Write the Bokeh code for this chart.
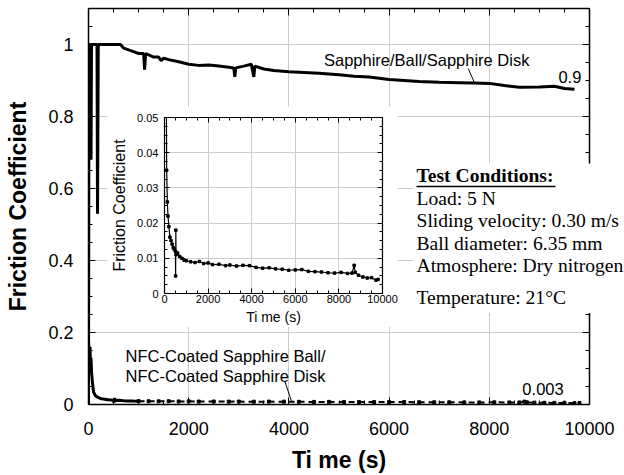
from bokeh.plotting import figure
from bokeh.models import (Range1d, LinearAxis, SingleIntervalTicker, NumeralTickFormatter,
                          Label, Arrow)
from bokeh.embed import file_html
from bokeh.resources import INLINE

# ---------------- data ----------------
sapphire_t = [0, 10, 40, 50, 60, 100, 170, 180, 195, 300, 500, 640, 700, 800, 900, 1000,
              1100, 1120, 1140, 1300, 1400, 1450, 1500, 1600, 1800, 2000, 2200, 2400, 2600,
              2800, 2900, 2920, 2940, 3100, 3250, 3300, 3320, 3500, 3700, 4000, 4300, 4600,
              5000, 5300, 5600, 6000, 6300, 6600, 7000, 7400, 7700, 8000, 8300, 8600, 9000,
              9300, 9500, 9700]
sapphire_f = [0.0, 1.0, 1.0, 0.68, 1.0, 1.0, 1.0, 0.53, 1.0, 1.0, 1.0, 1.0, 0.99, 0.985,
              0.98, 0.975, 0.975, 0.93, 0.975, 0.965, 0.965, 0.955, 0.962, 0.958, 0.952,
              0.945, 0.942, 0.943, 0.94, 0.937, 0.935, 0.91, 0.935, 0.94, 0.945, 0.91, 0.94,
              0.932, 0.928, 0.924, 0.922, 0.92, 0.916, 0.912, 0.91, 0.903, 0.9, 0.897, 0.895,
              0.894, 0.893, 0.892, 0.886, 0.881, 0.882, 0.884, 0.878, 0.876]

nfc_t = [0, 10, 20, 30, 40, 50, 60, 80, 100, 130, 160, 200, 250, 300, 350, 400, 450, 500,
         510, 520, 530, 600, 700, 800, 900, 1000, 1200, 1400, 1600, 1800, 2000, 2200, 2500,
         2800, 3000, 3300, 3600, 3900, 4200, 4500, 4800, 5100, 5400, 5700, 6000, 6300, 6600,
         6900, 7200, 7500, 7800, 8100, 8400, 8600, 8700, 8750, 8900, 9100, 9300, 9500, 9700,
         9800]
nfc_f = [0.18, 0.15, 0.12, 0.16, 0.10, 0.13, 0.09, 0.06, 0.035, 0.026, 0.022, 0.019, 0.016,
         0.015, 0.014, 0.013, 0.0125, 0.012, 0.005, 0.018, 0.011, 0.0115, 0.0105, 0.0100,
         0.0095, 0.0093, 0.0090, 0.0088, 0.0091, 0.0085, 0.0087, 0.0082, 0.0083, 0.0079,
         0.0081, 0.0078, 0.0080, 0.0079, 0.0074, 0.0072, 0.0073, 0.0070, 0.0069, 0.0066,
         0.0067, 0.0068, 0.0063, 0.0062, 0.0061, 0.0059, 0.0058, 0.0060, 0.0057, 0.0058,
         0.0080, 0.0060, 0.0052, 0.0047, 0.0044, 0.0045, 0.0038, 0.0040]

x_ticks_interval = 2000
main_y_interval = 0.2
inset_y_interval = 0.01

conditions_title = "Test Conditions:"
conditions = ["Load: 5 N", "Sliding velocity: 0.30 m/s", "Ball diameter: 6.35 mm",
              "Atmosphere: Dry nitrogen", "Temperature: 21°C"]

SANS = "Liberation Sans"
SERIF = "Liberation Serif"


def style_axis(ax, size, show_labels=True):
    ax.axis_line_color = "black"
    ax.axis_line_width = 1.5
    ax.major_tick_line_color = "black"
    ax.minor_tick_line_color = "black"
    ax.major_tick_in = 7
    ax.major_tick_out = 0
    ax.minor_tick_in = 4
    ax.minor_tick_out = 0
    ax.major_label_text_font = SANS
    if show_labels:
        ax.major_label_text_font_size = size
        ax.major_label_text_color = "black"
    else:
        ax.major_label_text_font_size = "1px"
        ax.major_label_text_color = None
        ax.major_label_standoff = 0


# ---------------- main figure ----------------
p = figure(width=624, height=475, x_range=Range1d(0, 10000), y_range=Range1d(0, 1.1),
           output_backend="svg", toolbar_location=None,
           min_border_left=88, min_border_right=35, min_border_top=8, min_border_bottom=70,
           styles={"position": "absolute", "left": "0px", "top": "0px"})
p.outline_line_color = None
p.background_fill_color = "white"
p.border_fill_color = "white"

xt = SingleIntervalTicker(interval=x_ticks_interval, num_minor_ticks=4)
yt = SingleIntervalTicker(interval=main_y_interval, num_minor_ticks=4)
p.xaxis.ticker = xt
p.yaxis.ticker = yt
p.yaxis.formatter = NumeralTickFormatter(format="0.[0]")
for ax in p.xaxis + p.yaxis:
    style_axis(ax, "18px")
p.xaxis.major_label_standoff = 17
p.yaxis.major_label_standoff = 15
p.xaxis.axis_label = "Ti me (s)"
p.yaxis.axis_label = "Friction Coefficient"
for ax in p.xaxis + p.yaxis:
    ax.axis_label_text_font = SANS
    ax.axis_label_text_font_size = "23px"
    ax.axis_label_text_font_style = "bold"
    ax.axis_label_text_color = "black"
p.xaxis.axis_label_standoff = 9
p.yaxis.axis_label_standoff = 14

top_ax = LinearAxis(ticker=xt)
right_ax = LinearAxis(ticker=yt)
style_axis(top_ax, "1px", False)
style_axis(right_ax, "1px", False)
p.add_layout(top_ax, "above")
p.add_layout(right_ax, "right")

p.grid.grid_line_color = "#cccccc"
p.grid.grid_line_width = 1

p.line(sapphire_t, sapphire_f, line_color="black", line_width=3)
k = nfc_t.index(1000)
p.line(nfc_t[:k + 1], nfc_f[:k + 1], line_color="black", line_width=3)
p.line(nfc_t[k:], nfc_f[k:], line_color="black", line_width=2, line_dash="6 4")
p.scatter(nfc_t[k:], nfc_f[k:], marker="square", size=3, color="black")

# annotations
p.add_layout(Label(x=4700, y=0.956, text="Sapphire/Ball/Sapphire Disk", text_font=SANS,
                   text_font_size="16.5px", text_baseline="middle", text_color="black"))
p.add_layout(Arrow(end=None, x_start=7580, y_start=0.933, x_end=7700, y_end=0.895,
                   line_color="black", line_width=1))
p.add_layout(Label(x=9380, y=0.909, text="0.9", text_font=SANS, text_font_size="16.5px",
                   text_baseline="middle", text_color="black"))
p.add_layout(Label(x=740, y=0.136, text="NFC-Coated Sapphire Ball/", text_font=SANS,
                   text_font_size="16.5px", text_baseline="middle", text_color="black"))
p.add_layout(Label(x=740, y=0.080, text="NFC-Coated Sapphire Disk", text_font=SANS,
                   text_font_size="16.5px", text_baseline="middle", text_color="black"))
p.add_layout(Arrow(end=None, x_start=3920, y_start=0.064, x_end=4060, y_end=0.006,
                   line_color="black", line_width=1))
p.add_layout(Label(x=8660, y=0.044, text="0.003", text_font=SANS, text_font_size="16.5px",
                   text_baseline="middle", text_color="black"))

# ---------------- inset figure ----------------
q = figure(width=291, height=221, x_range=Range1d(0, 10000), y_range=Range1d(0, 0.05),
           output_backend="svg", toolbar_location=None,
           min_border_left=57, min_border_right=16, min_border_top=11, min_border_bottom=34,
           styles={"position": "absolute", "left": "107px", "top": "106px"})
q.outline_line_color = None
q.background_fill_color = "white"
q.border_fill_color = "white"
qxt = SingleIntervalTicker(interval=x_ticks_interval, num_minor_ticks=4)
qyt = SingleIntervalTicker(interval=inset_y_interval, num_minor_ticks=4)
q.xaxis.ticker = qxt
q.yaxis.ticker = qyt
q.yaxis.formatter = NumeralTickFormatter(format="0.[00]")
for ax in q.xaxis + q.yaxis:
    style_axis(ax, "11px")
    ax.major_tick_in = 5
    ax.minor_tick_in = 3
    ax.axis_line_width = 1.2
    ax.axis_label_text_font = SANS
    ax.axis_label_text_font_style = "normal"
    ax.axis_label_text_color = "black"
q.xaxis.axis_label_text_font_size = "14px"
q.yaxis.axis_label_text_font_size = "16px"
q.xaxis.major_label_standoff = 1
q.yaxis.major_label_standoff = 6
q.xaxis.axis_label = "Ti me (s)"
q.yaxis.axis_label = "Friction Coefficient"
q.xaxis.axis_label_standoff = 3
q.yaxis.axis_label_standoff = 6
qtop = LinearAxis(ticker=qxt)
qright = LinearAxis(ticker=qyt)
for ax in (qtop, qright):
    style_axis(ax, "1px", False)
    ax.major_tick_in = 5
    ax.minor_tick_in = 3
    ax.axis_line_width = 1.2
q.add_layout(qtop, "above")
q.add_layout(qright, "right")
q.grid.grid_line_color = "#cccccc"
q.grid.grid_line_width = 1

q.line(nfc_t, nfc_f, line_color="black", line_width=1.2)
q.scatter(nfc_t, nfc_f, marker="square", size=2.5, color="black")

# ---------------- test-conditions box (white panel over the main plot) ----------------
c = figure(width=211, height=150, x_range=Range1d(0, 211), y_range=Range1d(150, 0),
           output_backend="svg", toolbar_location=None,
           x_axis_location=None, y_axis_location=None,
           min_border_left=0, min_border_right=0, min_border_top=0, min_border_bottom=0,
           styles={"position": "absolute", "left": "413px", "top": "163px"})
c.outline_line_color = None
c.grid.visible = False
c.background_fill_color = "white"
c.border_fill_color = "white"
c.add_layout(Label(x=3, y=12, text=conditions_title, text_font=SERIF, text_font_size="19.6px",
                   text_font_style="bold", text_baseline="alphabetic", text_color="black"))
c.add_layout(Arrow(end=None, x_start=3, y_start=23, x_end=142, y_end=23,
                   line_color="black", line_width=1.5))
for i, txt in enumerate(conditions[:4]):
    c.add_layout(Label(x=3, y=35 + i * 22.4, text=txt, text_font=SERIF,
                       text_font_size="19.6px", text_baseline="alphabetic",
                       text_color="black"))
c.add_layout(Label(x=3, y=134, text=conditions[4], text_font=SERIF, text_font_size="19.6px",
                   text_baseline="alphabetic", text_color="black"))

open("out.html", "w").write(file_html([p, q, c], INLINE, title="Friction coefficient"))
